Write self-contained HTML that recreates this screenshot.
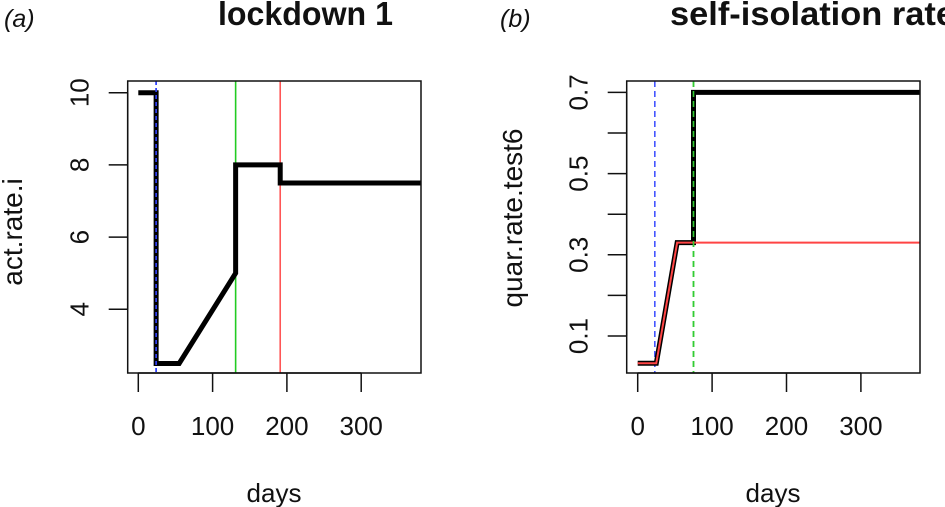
<!DOCTYPE html>
<html><head><meta charset="utf-8"><style>
body{margin:0;background:#fff}
svg{display:block;font-family:"Liberation Sans",sans-serif}
</style></head><body>
<svg width="945" height="507" viewBox="0 0 945 507">
<g id="pa"></g>
<g id="pb"></g>
</svg>
<script>
const NS="http://www.w3.org/2000/svg";
// Panel A data
const aDays=[0,24,24,55,131,131,191,191,380];
const aRate=[10,10,2.5,2.5,5,8,8,7.5,7.5];
const aVlines=[24,131,191];
const aXTicks=[0,100,200,300];
const aYTicks=[4,6,8,10];
// Panel B data
const bDays=[0,25,53,75,75,380];
const bRateBlack=[0.033,0.033,0.33,0.33,0.7,0.7];
const bRedDays=[0,25,53,75,380];
const bRateRed=[0.033,0.033,0.33,0.33,0.33];
const bVlines=[23,75];
const bXTicks=[0,100,200,300];
const bYTicks=[0.1,0.2,0.3,0.4,0.5,0.6,0.7];
const bYLabels=["0.1","","0.3","","0.5","","0.7"];

function mk(p,tag,at,name){const e=document.createElementNS(NS,tag);for(const k in at)e.setAttribute(k,at[k]);


p.appendChild(e);return e;}

function panel(g,o){
  const X=v=>o.x0+(v)*o.xs, Y=v=>o.y0-(v-o.yv0)*o.ys;
  o.vl.forEach((d,i)=>mk(g,'line',{x1:X(d),x2:X(d),y1:o.top,y2:o.bot,stroke:o.vc[i],'stroke-width':1.6,'stroke-dasharray':o.vd[i]||''},'marker-line'));
  o.series.forEach(s=>{
    mk(g,'polyline',{points:s.x.map((d,i)=>X(d)+','+Y(s.y[i])).join(' '),fill:'none',stroke:s.c,'stroke-width':s.w,'stroke-linejoin':'miter'},s.n);
  });
  o.vl.forEach((d,i)=>{if(o.vtop[i])mk(g,'line',{x1:X(d),x2:X(d),y1:o.top,y2:o.bot,stroke:o.vc[i],'stroke-width':1.6,'stroke-dasharray':o.vd[i]||''},'marker-line-top');});
  mk(g,'rect',{x:o.left,y:o.top,width:o.right-o.left,height:o.bot-o.top,fill:'none',stroke:'#111','stroke-width':1.5},'plot-box');
  mk(g,'line',{x1:X(o.xt[0]),x2:X(o.xt[o.xt.length-1]),y1:o.bot,y2:o.bot,stroke:'#111','stroke-width':1.5},'x-axis');
  o.xt.forEach(t=>{mk(g,'line',{x1:X(t),x2:X(t),y1:o.bot,y2:o.bot+19,stroke:'#111','stroke-width':1.5},'x-tick');
    const tx=mk(g,'text',{x:X(t),y:o.bot+62,'font-size':26,'text-anchor':'middle',fill:'#111'},'x-tick-label');tx.textContent=t;});
  mk(g,'line',{x1:o.left,x2:o.left,y1:Y(o.yt[0]),y2:Y(o.yt[o.yt.length-1]),stroke:'#111','stroke-width':1.5},'y-axis');
  o.yt.forEach((t,i)=>{mk(g,'line',{x1:o.left-19,x2:o.left,y1:Y(t),y2:Y(t),stroke:'#111','stroke-width':1.5},'y-tick');
    const lab=o.yl?o.yl[i]:String(t); if(!lab)return;
    const bx=o.left-39;
    const tx=mk(g,'text',{x:bx,y:Y(t),'font-size':26,'text-anchor':'middle',fill:'#111',transform:`rotate(-90 ${bx} ${Y(t)})`},'y-tick-label');tx.textContent=lab;});
}
const pa=document.getElementById('pa'), pb=document.getElementById('pb');
panel(pa,{x0:138.3,xs:0.743,y0:92.7,yv0:10,ys:36.1,left:127.7,right:421,top:81,bot:373,
 vl:aVlines,vc:['#3344ff','#22cc22','#ff5555'],vd:['4,3','',''],vtop:[true,false,false],
 series:[{x:aDays,y:aRate,c:'#000',w:5,n:'act-rate-line'}],xt:aXTicks,yt:aYTicks});
panel(pb,{x0:637.7,xs:0.744,y0:336,yv0:0.1,ys:406,left:626.7,right:920,top:81,bot:373,
 vl:bVlines,vc:['#4455ff','#33cc33'],vd:['6,4','6,4'],vtop:[false,true],
 series:[{x:bDays,y:bRateBlack,c:'#000',w:5,n:'quar-rate-line'},{x:bRedDays,y:bRateRed,c:'#ff4444',w:2,n:'quar-rate-red-line'}],
 xt:bXTicks,yt:bYTicks,yl:bYLabels});
function txt(p,s,at,name){const t=mk(p,'text',Object.assign({fill:'#111'},at),name);t.textContent=s;return t;}
txt(pa,'(a)',{x:4,y:27,'font-size':25,'font-style':'italic'},'panel-label-a');
txt(pa,'lockdown 1',{x:218,y:25,'font-size':33,'font-weight':'bold',textLength:175,lengthAdjust:'spacingAndGlyphs'},'title-a');
txt(pa,'days',{x:274,y:502,'font-size':26,'text-anchor':'middle'},'x-axis-title-a');
txt(pa,'act.rate.i',{x:22,y:232,'font-size':28,'text-anchor':'middle',transform:'rotate(-90 22 232)'},'y-axis-title-a');
txt(pb,'(b)',{x:500,y:27,'font-size':25,'font-style':'italic'},'panel-label-b');
txt(pb,'self-isolation rate',{x:670,y:25,'font-size':33,'font-weight':'bold',textLength:285,lengthAdjust:'spacingAndGlyphs'},'title-b');
txt(pb,'days',{x:773,y:502,'font-size':26,'text-anchor':'middle'},'x-axis-title-b');
txt(pb,'quar.rate.test6',{x:522,y:218,'font-size':28,'text-anchor':'middle',transform:'rotate(-90 522 218)'},'y-axis-title-b');
</script>
</body></html>
